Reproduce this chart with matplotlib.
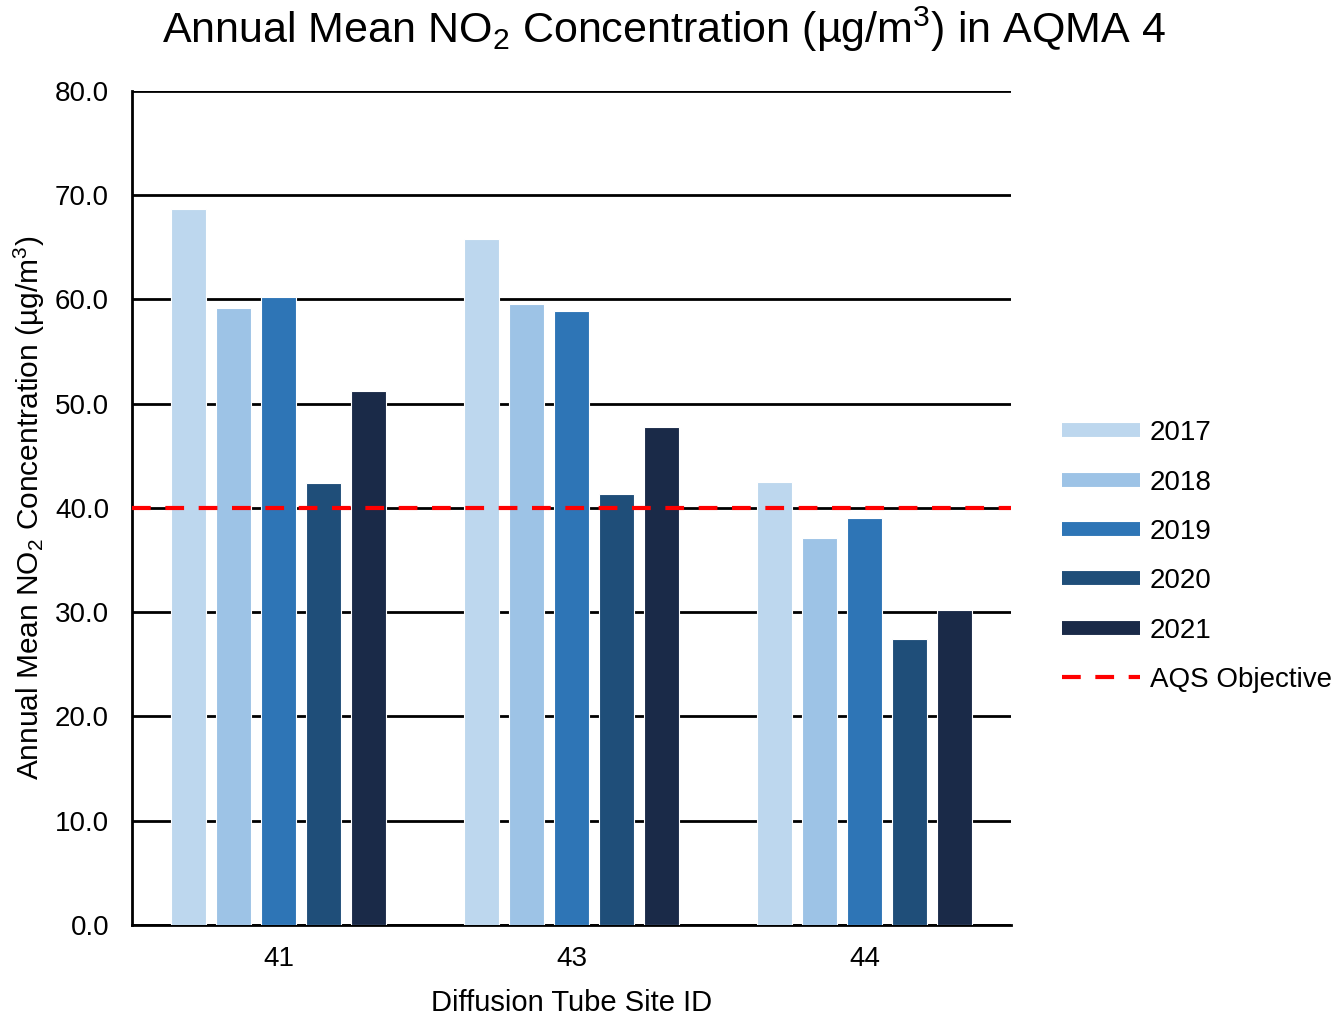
import matplotlib
matplotlib.use("Agg")
import matplotlib.pyplot as plt
from matplotlib.lines import Line2D
import numpy as np

plt.rcParams['font.family'] = ['Liberation Sans', 'DejaVu Sans']
plt.rcParams['mathtext.fontset'] = 'custom'
plt.rcParams['mathtext.rm'] = 'Liberation Sans'
plt.rcParams['mathtext.it'] = 'Liberation Sans'
plt.rcParams['mathtext.default'] = 'regular'

sites = ["41", "43", "44"]
years = ["2017", "2018", "2019", "2020", "2021"]
v2017 = [68.7, 65.8, 42.5]
v2018 = [59.2, 59.6, 37.1]
v2019 = [60.2, 58.9, 39.0]
v2020 = [42.4, 41.3, 27.4]
v2021 = [51.2, 47.8, 30.2]
series = [v2017, v2018, v2019, v2020, v2021]
colors = ["#BDD7EE", "#9DC3E6", "#2E75B6", "#1F4E79", "#1A2A48"]
objective = 40.0
yticks = [0, 10, 20, 30, 40, 50, 60, 70, 80]

fig = plt.figure(figsize=(13.36, 10.18), dpi=100)
ax = fig.add_axes([0.0988, 0.0914, 0.6579, 0.8192])

x = np.arange(len(sites))
pitch = 0.1536
width = 0.119
for i, (vals, c) in enumerate(zip(series, colors)):
    ax.bar(x + (i - 2) * pitch, vals, width=width, color=c, edgecolor="white",
           linewidth=0.8, zorder=3)

ax.axhline(objective, color="#FF0000", linestyle=(0, (4.5, 3.5)), linewidth=3, zorder=4)

ax.set_xlim(-0.5, 2.5)
ax.set_ylim(0, 80)
ax.set_yticks(yticks)
ax.set_yticklabels([f"{t:.1f}" for t in yticks])
ax.set_xticks(x)
ax.set_xticklabels(sites)
ax.yaxis.grid(True, color="black", linewidth=2, zorder=0, solid_capstyle="butt")
ax.set_axisbelow(True)
for s in ["right", "top"]:
    ax.spines[s].set_visible(False)
ax.spines["bottom"].set_linewidth(2)
ax.spines["left"].set_linewidth(2)
ax.tick_params(axis="both", length=0, labelsize=20)
ax.tick_params(axis="y", pad=16.5)
ax.tick_params(axis="x", pad=15.5)

ax.set_xlabel("Diffusion Tube Site ID", fontsize=21, labelpad=12)
ax.set_ylabel("Annual Mean NO$_2$ Concentration (µg/m$^3$)", fontsize=21.5, labelpad=6)
fig.suptitle("Annual Mean NO$_2$ Concentration (µg/m$^3$) in AQMA 4", fontsize=31,
             x=0.497, y=0.995)

handles = [Line2D([], [], color=c, linewidth=10, solid_capstyle="butt") for c in colors]
handles.append(Line2D([], [], color="#FF0000", linewidth=3, linestyle=(0, (4.5, 3.5))))
labels = years + ["AQS Objective"]
fig.legend(handles, labels, loc="center left", bbox_to_anchor=(0.795, 0.4533),
           frameon=False, fontsize=20, handlelength=2.8, labelspacing=0.84,
           handletextpad=0.36, borderpad=0, borderaxespad=0)

fig.savefig("out.png", dpi=100)
